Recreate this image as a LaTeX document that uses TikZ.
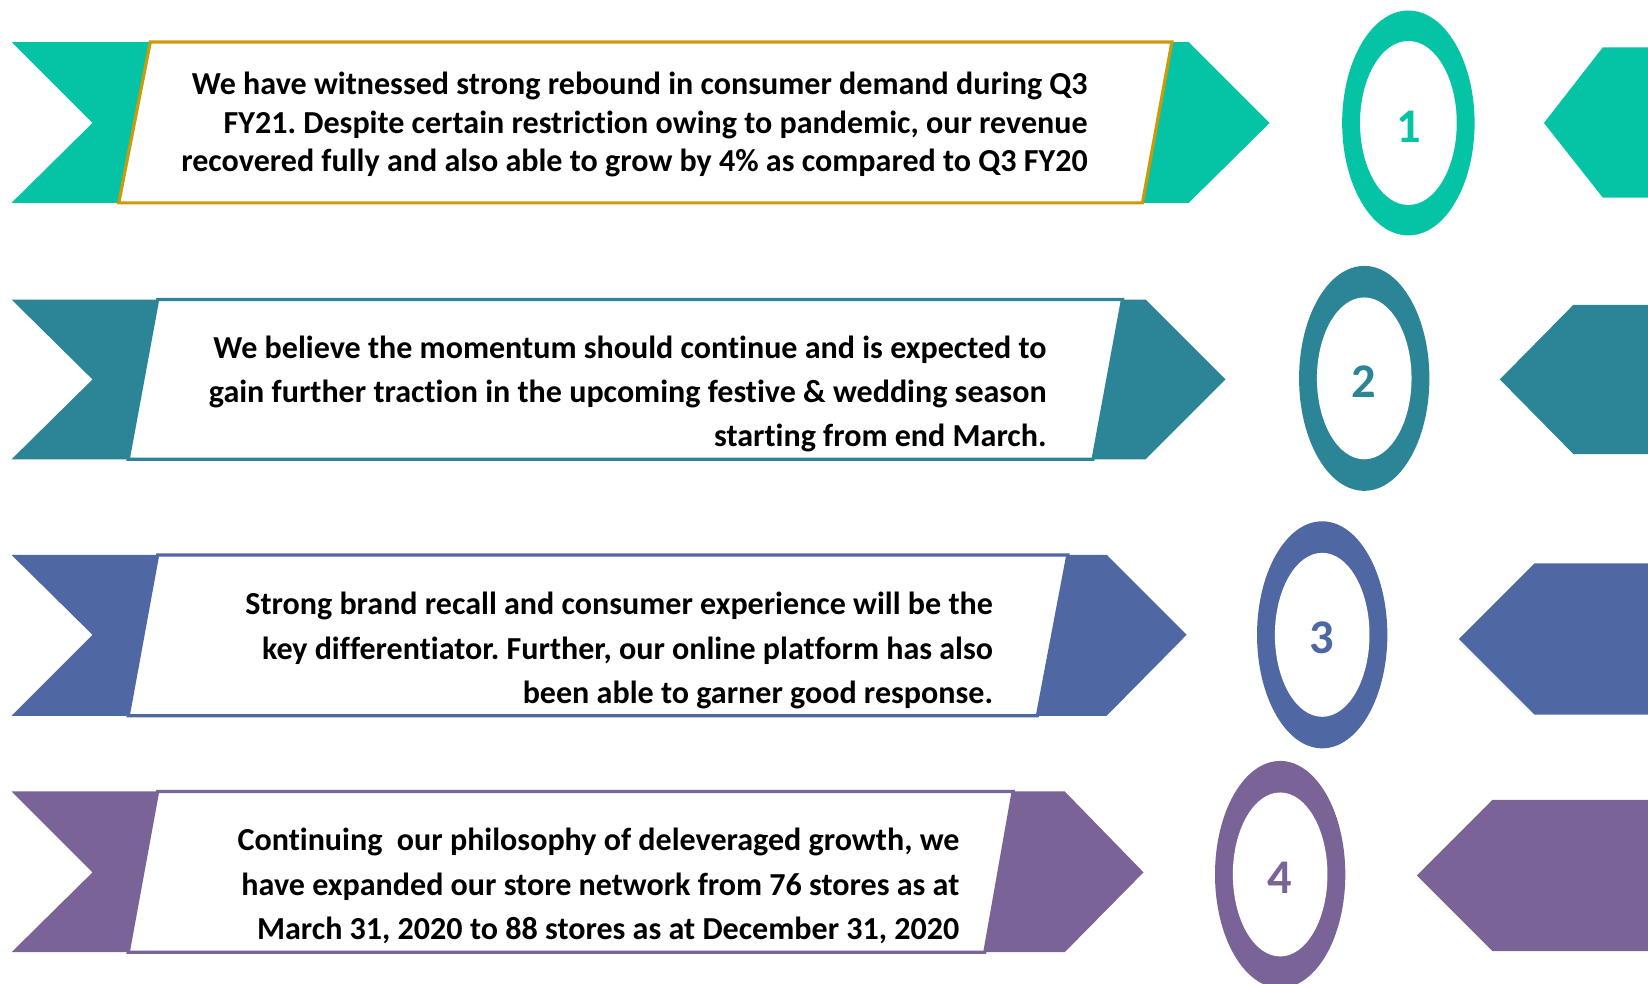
\documentclass[tikz,border=0pt]{standalone}
\usepackage{fontspec}
\setmainfont{Carlito}[RawFeature=-liga]
\usepackage{xcolor}
\usetikzlibrary{positioning}
\definecolor{rowA}{HTML}{05C3A5}
\definecolor{rowB}{HTML}{2C8596}
\definecolor{rowC}{HTML}{4F68A3}
\definecolor{rowD}{HTML}{7A6497}
\definecolor{goldline}{HTML}{CC9A06}
\frenchspacing
\tikzset{
  % Common styles for the ribbons
  ribbon/.style={fill=#1},
  textbox/.style={draw=#1, fill=white, line width=3pt, line join=miter},
  note/.style={anchor=east, align=right, inner sep=0pt, font=\bfseries\fontsize{30.5}{42}\selectfont},
  num/.style={inner sep=0pt, text=#1, font=\bfseries\fontsize{46}{46}\selectfont}
}

\begin{document}
\begin{tikzpicture}[x=1pt, y=-1pt]
    \useasboundingbox (0,0) rectangle (1568,936);
    \clip (0,0) rectangle (1568,936);

    % Row 1
    \fill[ribbon=rowA] (11,40) -- (1131,40) -- (1208,117) -- (1131,193) -- (11,193) -- (88,117) -- cycle;
    \draw[textbox=goldline] (143,40) -- (1115,40) -- (1087,193) -- (113,193) -- cycle;
    \node[note, font=\bfseries\fontsize{30.5}{37}\selectfont] (noteA) at (1035,118.5)
      {We have witnessed strong rebound in consumer demand during Q3\\
       FY21. Despite certain restriction owing to pandemic, our revenue\\
       recovered fully and also able to grow by 4\% as compared to Q3 FY20};
    \fill[rowA] (1340,117) ellipse [x radius=63, y radius=107];
    \fill[white] (1340,117) ellipse [x radius=46, y radius=78];
    \node[num=rowA] (numA) at (1340,121) {1};
    \fill[ribbon=rowA] (1469,117) -- (1525,45) -- (1568,45) -- (1568,188) -- (1525,188) -- cycle;

    % Row 2
    \fill[ribbon=rowB] (11,285) -- (1090,285) -- (1166,361) -- (1090,437) -- (11,437) -- (88,361) -- cycle;
    \draw[textbox=rowB] (150,285) -- (1068,285) -- (1040,437) -- (122,437) -- cycle;
    \node[note] (noteB) at (996,375)
      {We believe the momentum should continue and is expected to\\
       gain further traction in the upcoming festive \& wedding season\\
       starting from end March.};
    \fill[rowB] (1298,360) ellipse [x radius=62, y radius=107];
    \fill[white] (1298,360) ellipse [x radius=45, y radius=77];
    \node[num=rowB] (numB) at (1298,363) {2};
    \fill[ribbon=rowB] (1427,361) -- (1497,290) -- (1568,290) -- (1568,432) -- (1497,432) -- cycle;

    % Row 3
    \fill[ribbon=rowC] (11,528) -- (1053,528) -- (1129,604) -- (1053,681) -- (11,681) -- (88,604) -- cycle;
    \draw[textbox=rowC] (150,528) -- (1016,528) -- (987,681) -- (122,681) -- cycle;
    \node[note] (noteC) at (945,619)
      {Strong brand recall and consumer experience will be the\\
       key differentiator. Further, our online platform has also\\
       been able to garner good response.};
    \fill[rowC] (1258,604) ellipse [x radius=62, y radius=108];
    \fill[white] (1258,604) ellipse [x radius=45, y radius=78];
    \node[num=rowC] (numC) at (1258,607) {3};
    \fill[ribbon=rowC] (1388,608) -- (1460,536) -- (1568,536) -- (1568,680) -- (1460,680) -- cycle;

    % Row 4
    \fill[ribbon=rowD] (11,753) -- (1013,753) -- (1088,830) -- (1013,906) -- (11,906) -- (88,830) -- cycle;
    \draw[textbox=rowD] (150,753) -- (964,753) -- (937,906) -- (122,906) -- cycle;
    \node[note] (noteD) at (913,843)
      {Continuing\ \ our philosophy of deleveraged growth, we\\
       have expanded our store network from 76 stores as at\\
       March 31, 2020 to 88 stores as at December 31, 2020};
    \fill[rowD] (1218,832) ellipse [x radius=62, y radius=108];
    \fill[white] (1218,832) ellipse [x radius=45, y radius=78];
    \node[num=rowD] (numD) at (1218,835) {4};
    \fill[ribbon=rowD] (1348,833) -- (1420,761) -- (1568,761) -- (1568,905) -- (1420,905) -- cycle;
\end{tikzpicture}
\end{document}
